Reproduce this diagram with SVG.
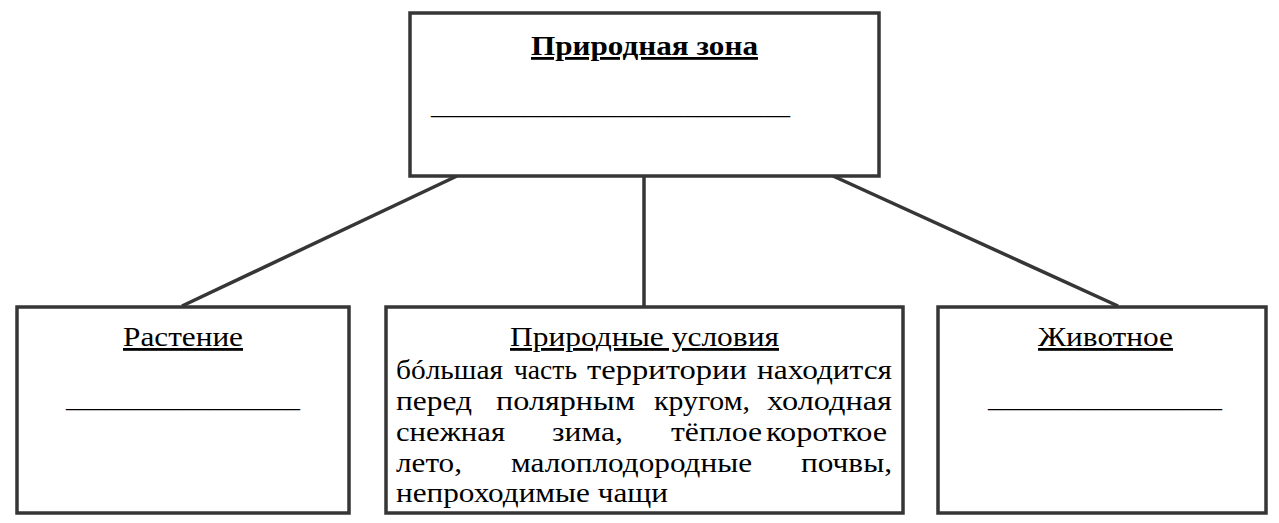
<svg xmlns="http://www.w3.org/2000/svg" width="1279" height="523" viewBox="0 0 1279 523">
<style>
.box{fill:#fff;stroke:#363636;stroke-width:3.5}
.con{stroke:#363636;stroke-width:3.5;fill:none}
.b{font-weight:bold}
.u{text-decoration:underline}
</style>
<rect width="1279" height="523" fill="#fff"/>
<g id="connectors">
<line class="con" x1="457" y1="176" x2="182" y2="306"/>
<line class="con" x1="644" y1="176" x2="644" y2="306"/>
<line class="con" x1="833" y1="176" x2="1118" y2="306"/>
</g>
<g font-family="'Liberation Serif', 'Times New Roman', serif" font-size="28" fill="#000" lengthAdjust="spacingAndGlyphs">
<g id="zone">
<rect class="box" x="410" y="13" width="469" height="163"/>
<text class="b u" x="531" y="55" textLength="227" lengthAdjust="spacingAndGlyphs">Природная зона</text>
<text x="431" y="114" textLength="359" lengthAdjust="spacingAndGlyphs">___________________________</text>
</g>
<g id="plant">
<rect class="box" x="17" y="307" width="332" height="206"/>
<text class="u" x="123" y="346" textLength="120" lengthAdjust="spacingAndGlyphs">Растение</text>
<text x="66" y="407" textLength="234" lengthAdjust="spacingAndGlyphs">__________________</text>
</g>
<g id="conditions">
<rect class="box" x="386" y="307" width="517" height="206"/>
<text class="u" x="510" y="346" textLength="269" lengthAdjust="spacingAndGlyphs">Природные условия</text>
<text x="396" y="379" textLength="107" lengthAdjust="spacingAndGlyphs">бóльшая</text>
<text x="514" y="379" textLength="63" lengthAdjust="spacingAndGlyphs">часть</text>
<text x="587" y="379" textLength="160" lengthAdjust="spacingAndGlyphs">территории</text>
<text x="757" y="379" textLength="135" lengthAdjust="spacingAndGlyphs">находится</text>
<text x="396" y="410" textLength="76" lengthAdjust="spacingAndGlyphs">перед</text>
<text x="496" y="410" textLength="139" lengthAdjust="spacingAndGlyphs">полярным</text>
<text x="654" y="410" textLength="96" lengthAdjust="spacingAndGlyphs">кругом,</text>
<text x="767" y="410" textLength="125" lengthAdjust="spacingAndGlyphs">холодная</text>
<text x="396" y="441" textLength="109" lengthAdjust="spacingAndGlyphs">снежная</text>
<text x="552" y="441" textLength="71" lengthAdjust="spacingAndGlyphs">зима,</text>
<text x="671" y="441" textLength="91" lengthAdjust="spacingAndGlyphs">тёплое</text>
<text x="766" y="441" textLength="121" lengthAdjust="spacingAndGlyphs">короткое</text>
<text x="396" y="472" textLength="66" lengthAdjust="spacingAndGlyphs">лето,</text>
<text x="511" y="472" textLength="241" lengthAdjust="spacingAndGlyphs">малоплодородные</text>
<text x="801" y="472" textLength="91" lengthAdjust="spacingAndGlyphs">почвы,</text>
<text x="396" y="502" textLength="272" lengthAdjust="spacingAndGlyphs">непроходимые чащи</text>
</g>
<g id="animal">
<rect class="box" x="938" y="307" width="328" height="206"/>
<text class="u" x="1038" y="346" textLength="135" lengthAdjust="spacingAndGlyphs">Животное</text>
<text x="988" y="407" textLength="234" lengthAdjust="spacingAndGlyphs">__________________</text>
</g>
</g>
</svg>
